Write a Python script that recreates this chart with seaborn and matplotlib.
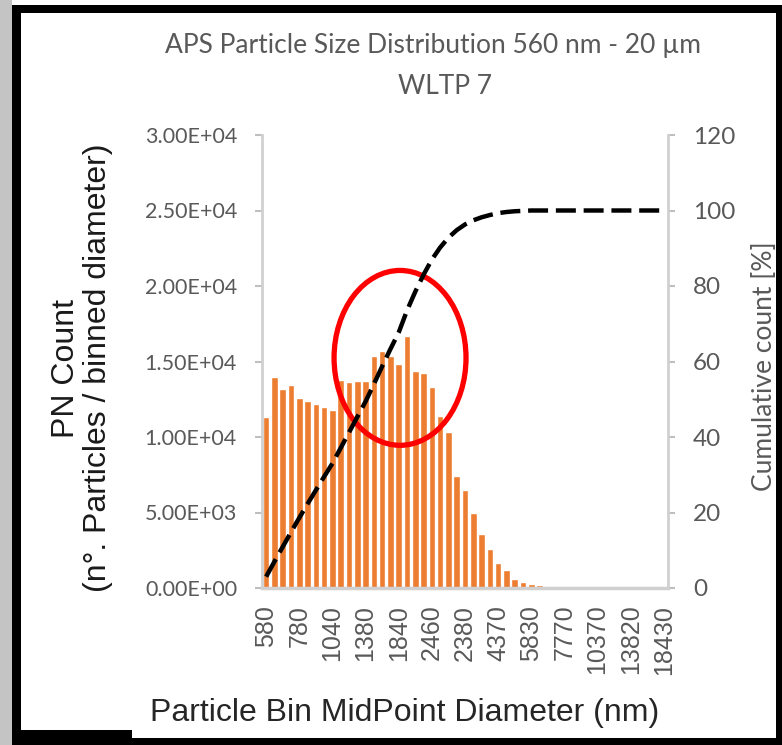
import numpy as np
import pandas as pd
import matplotlib
matplotlib.use("Agg")
import matplotlib.pyplot as plt
import seaborn as sns
from matplotlib.patches import Ellipse, Rectangle
from matplotlib.transforms import IdentityTransform
from matplotlib.ticker import FuncFormatter, MultipleLocator

# ---------------- data ----------------
diameters_nm = [580, 630, 670, 720, 780, 840, 900, 970, 1040, 1110, 1200, 1290,
                1380, 1490, 1600, 1720, 1840, 1980, 2130, 2290, 2460, 2640, 2840,
                3050, 2380, 3520, 3790, 4070, 4370, 4700, 5050, 5430, 5830, 6260,
                6730, 7230, 7770, 8350, 8980, 9650, 10370, 11140, 11970, 12860,
                13820, 14860, 15960, 17150, 18430]

pn_count = [11330, 13960, 13200, 13430, 12600, 12370, 12200, 12000, 11800,
            13800, 13630, 13740, 13740, 15350, 15700, 15350, 14850, 16700,
            14400, 14250, 13300, 11370, 10300, 7450, 6500, 4960, 3560,
            2600, 1660, 1170, 600, 380, 270, 200, 150, 120, 100, 100, 90,
            80, 80, 70, 70, 60, 60, 50, 50, 50, 40]

cumulative_pct = [3.0, 7.0, 10.9, 14.8, 18.6, 22.3, 25.9, 29.5, 33.0, 37.1,
                  41.2, 45.3, 49.4, 54.0, 58.7, 63.3, 67.7, 73.5, 78.5, 83.0,
                  87.0, 90.2, 92.8, 94.8, 96.3, 97.4, 98.2, 98.8, 99.3, 99.6,
                  99.8, 99.9, 100, 100, 100, 100, 100, 100, 100, 100, 100, 100,
                  100, 100, 100, 100, 100, 100, 100]

title_line1 = "APS Particle Size Distribution 560 nm - 20 µm"
title_line2 = "WLTP 7"
label_every = 4

# ---------------- style ----------------
sns.set_theme(style="white")
plt.rcParams['font.family'] = ['Lato', 'DejaVu Sans']

W, H = 782, 745
fig = plt.figure(figsize=(W / 100, H / 100), dpi=100)
fig.patch.set_facecolor("white")

ax = fig.add_axes([262 / W, 1 - 588 / H, 406 / W, 453 / H])

labels = [str(d) for d in diameters_nm]
df = pd.DataFrame({"diam": labels, "count": pn_count, "cum": cumulative_pct})
df["pos"] = np.arange(len(df))

sns.barplot(data=df, x="diam", y="count", order=labels, color="#ED7D31",
            saturation=1, width=0.8, errorbar=None, ax=ax, zorder=2)

ax.set_xlim(-0.5, len(labels) - 0.5)
ax.set_ylim(0, 30000)
ax.yaxis.set_major_locator(MultipleLocator(5000))
ax.yaxis.set_major_formatter(FuncFormatter(lambda v, p: f"{v:.2E}"))

tick_pos = list(range(0, len(labels), label_every))
ax.set_xticks(tick_pos)
ax.set_xticklabels([labels[i] for i in tick_pos], rotation=90,
                   family=['Liberation Sans'], fontsize=18, color="#595959",
                   va="top", ha="center")
ax.tick_params(axis="x", length=0, pad=12)
ax.tick_params(axis="y", which="major", left=True, length=5, width=1.5,
               color="#BFBFBF", direction="out", pad=13, labelsize=15.5,
               labelcolor="#595959")
ax.set_xlabel("")
ax.set_ylabel("")

ax.spines["top"].set_visible(False)
ax.spines["left"].set_color("#D0D0D0")
ax.spines["left"].set_linewidth(2)
ax.spines["bottom"].set_color("#D0D0D0")
ax.spines["bottom"].set_linewidth(2.5)
ax.spines["right"].set_visible(False)
ax.grid(False)

# secondary axis with cumulative line
ax2 = ax.twinx()
sns.lineplot(data=df, x="pos", y="cum", ax=ax2, color="black", lw=3.2, zorder=4)
ln = ax2.lines[0]
ln.set_linestyle((0, (4.5, 1.75)))
ln.set_dash_capstyle("butt")
ax2.set_ylim(0, 120)
ax2.set_xlim(-0.5, len(labels) - 0.5)
ax2.yaxis.set_major_locator(MultipleLocator(20))
ax2.tick_params(axis="y", right=True, length=5, width=1.5, color="#BFBFBF",
                direction="out", pad=13, labelsize=17.5, labelcolor="#595959")
ax2.set_ylabel("")
ax2.set_xlabel("")
for s in ["top", "left", "bottom"]:
    ax2.spines[s].set_visible(False)
ax2.spines["right"].set_color("#D0D0D0")
ax2.spines["right"].set_linewidth(2)
ax2.grid(False)

# red highlight ellipse
ax2.add_patch(Ellipse((0.340, 0.508), 0.325, 0.386, transform=ax2.transAxes,
                      fill=False, edgecolor="#FF0000", lw=3.8, zorder=3))

# texts
def px(x, y):
    return x / W, 1 - y / H

fig.text(*px(433, 46), title_line1, ha="center", va="center", fontsize=19,
         color="#595959")
fig.text(*px(445, 86), title_line2, ha="center", va="center", fontsize=19,
         color="#595959")
fig.text(*px(82, 368), "PN Count\n(n°. Particles / binned diameter)",
         rotation=90, ha="center", va="center", multialignment="center",
         fontsize=23, family=['Liberation Sans', 'DejaVu Sans'],
         color="#1a1a1a", linespacing=1.1)
fig.text(*px(405, 713), "Particle Bin MidPoint Diameter (nm)", ha="center",
         va="center", fontsize=23, family=['Liberation Sans', 'DejaVu Sans'],
         color="#262626")
fig.text(*px(764, 366), "Cumulative count [%]", rotation=90, ha="center",
         va="center", fontsize=19, color="#595959")

# outer frame (pixel coordinates, origin bottom-left)
T = IdentityTransform()
frame = [
    ((0, 0), 12, H, "#C4C4C4"),
    ((12, 0), 9, H - 5, "black"),
    ((12, H - 13), W - 12, 8, "black"),
    ((776, 0), 6, H - 5, "black"),
    ((12, 0), W - 12, 7, "black"),
    ((12, 0), 120, 15, "black"),
]
for xy, w, h, c in frame:
    fig.patches.append(Rectangle(xy, w, h, transform=T, facecolor=c,
                                 edgecolor="none", zorder=10))

fig.savefig("out.png", dpi=100)
